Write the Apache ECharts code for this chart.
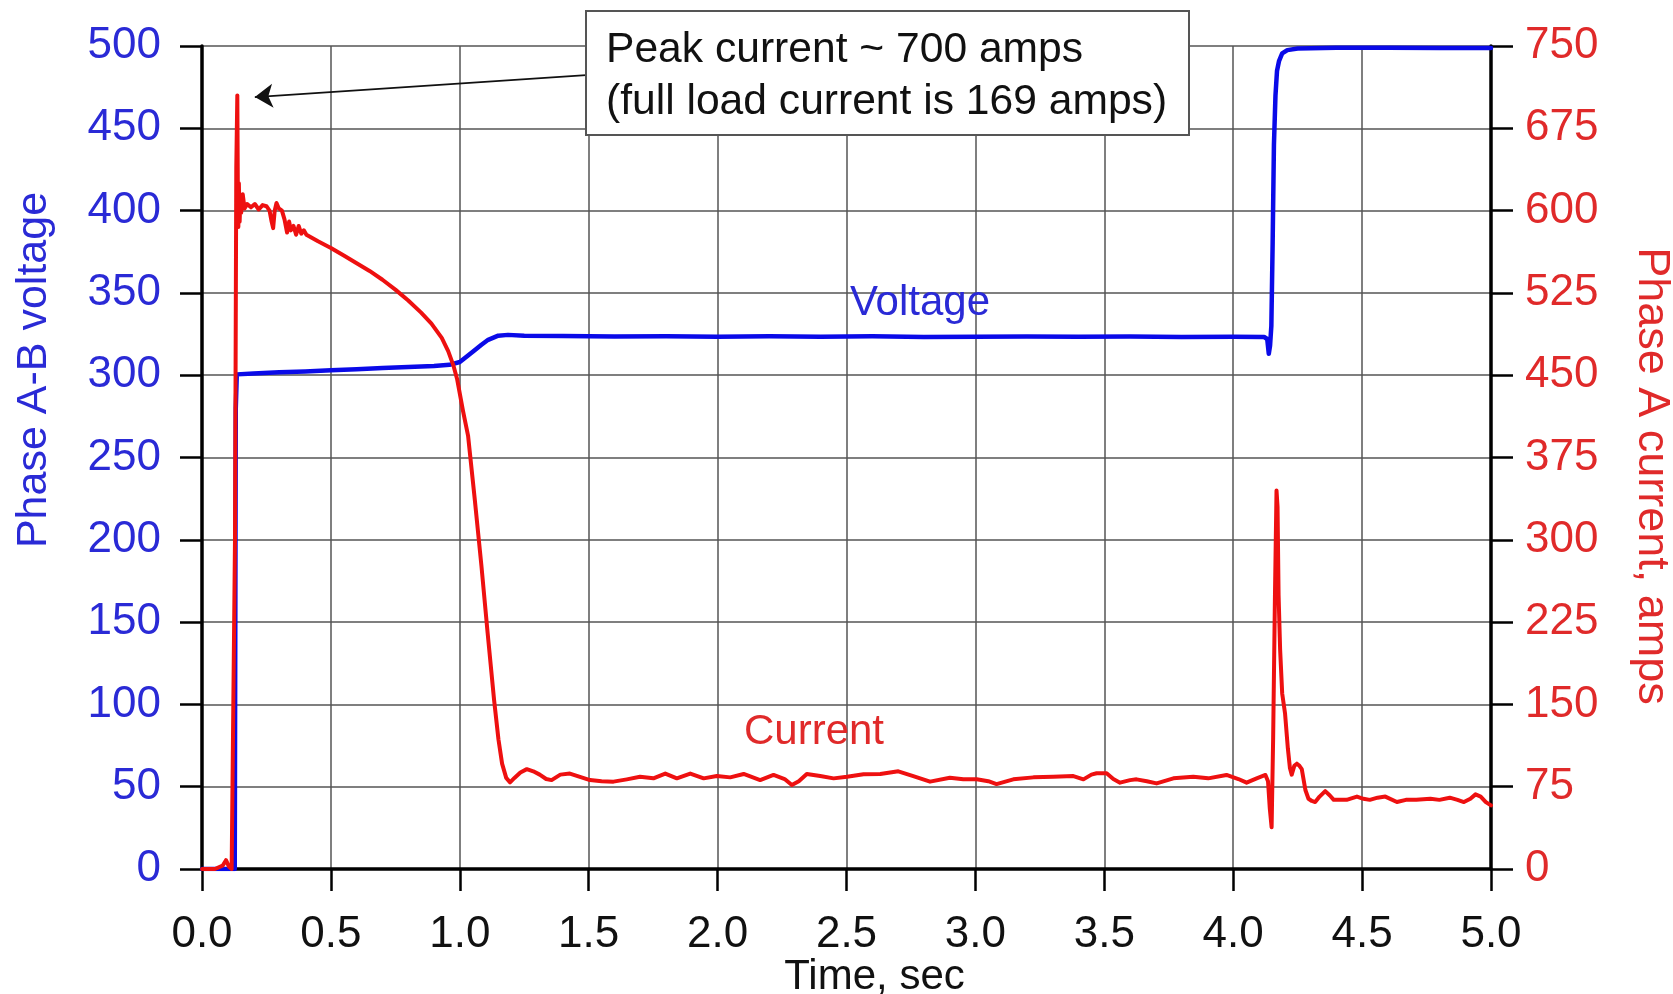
<!DOCTYPE html>
<html><head><meta charset="utf-8">
<script src="https://cdn.jsdelivr.net/npm/echarts@6/dist/echarts.min.js"></script>
<style>html,body{margin:0;padding:0;background:#fff}#c{width:1673px;height:994px}</style>
</head><body><div id="c"></div>
<script>
// ---- data ----
const voltageTime = [0,0.127,0.131,0.135,0.2,0.3,0.4,0.5,0.6,0.7,0.8,0.9,0.96,1.0,1.032,1.06,1.084,1.11,1.149,1.187,1.25,1.4,1.6,1.8,2.0,2.2,2.4,2.6,2.8,3.0,3.2,3.4,3.6,3.8,4.0,4.12,4.132,4.138,4.143,4.148,4.153,4.158,4.164,4.17,4.178,4.19,4.21,4.25,4.4,4.6,4.8,5.0];
const voltageVolts = [0,0,280,300.5,301,301.8,302.3,303,303.6,304.3,305,305.6,306.3,308,312,315.5,318.5,321.5,324,324.5,324,323.8,323.5,323.6,323.3,323.6,323.4,323.6,323.2,323.4,323.5,323.3,323.5,323.2,323.4,323.2,322,313,318,330,380,440,470,485,491,495.5,497.5,498.5,499,499,498.8,498.8];

const currentTime = [0,0.05,0.08,0.093,0.105,0.115,0.122,0.128,0.133,0.137,0.139,0.141,0.143,0.146,0.149,0.152,0.158,0.165,0.175,0.19,0.205,0.22,0.235,0.25,0.262,0.27,0.276,0.282,0.289,0.298,0.31,0.32,0.33,0.338,0.345,0.355,0.365,0.375,0.385,0.395,0.405,0.45,0.5,0.55,0.6,0.65,0.7,0.75,0.8,0.85,0.89,0.93,0.955,0.975,0.99,1.012,1.032,1.058,1.084,1.108,1.133,1.15,1.164,1.18,1.195,1.212,1.235,1.26,1.285,1.31,1.335,1.356,1.39,1.427,1.466,1.505,1.55,1.596,1.648,1.699,1.751,1.797,1.842,1.894,1.946,1.997,2.049,2.101,2.165,2.217,2.26,2.288,2.315,2.346,2.398,2.45,2.502,2.566,2.631,2.701,2.759,2.824,2.901,2.953,3.005,3.05,3.082,3.147,3.225,3.302,3.38,3.419,3.45,3.47,3.509,3.535,3.561,3.6,3.625,3.665,3.703,3.768,3.845,3.903,3.974,4.02,4.052,4.091,4.125,4.135,4.142,4.149,4.155,4.162,4.168,4.172,4.176,4.182,4.19,4.201,4.212,4.22,4.227,4.237,4.247,4.257,4.266,4.28,4.292,4.305,4.318,4.335,4.357,4.375,4.39,4.42,4.44,4.48,4.505,4.53,4.56,4.59,4.635,4.67,4.71,4.765,4.8,4.84,4.87,4.895,4.92,4.94,4.96,4.98,5.0];
const currentAmps = [0,0,3,8,2,0,0,300,640,705,620,585,625,590,612,598,615,602,606,603,606,601,605,604,600,590,584,600,607,602,600,592,580,590,582,586,578,586,579,582,578,572,566,559,552,545,537,528,518,507,497,484,472,459,446,418,395,337,276,215,154,118,96,83,79,83,88,91,89,86,82,81,86,87,84,81,80,79.6,81.7,84,82.6,87,82.6,87,82.6,84.7,83.5,86.6,81.1,85.7,82,76.5,80,86.6,84.7,82.6,84.1,86.3,86.6,89,84.7,79.6,83.2,81.7,81.7,80,77.4,81.7,83.5,84.1,84.7,81.7,86,87.2,87.2,82,78.7,81,81.7,80,78,82.6,84.1,82.6,85.7,82,78.7,82.6,85.7,80,55,38,120,250,345,330,250,200,160,142,110,92,86,94,96,94,91,72,64,62,61,66,71,67,63,63,63,66,64,63,65,66,61,63,63,64,63,65,63,61,64,68,66,61,58];

const timeTicks = [0,0.5,1.0,1.5,2.0,2.5,3.0,3.5,4.0,4.5,5.0];
const voltageTicks = [0,50,100,150,200,250,300,350,400,450,500];
const currentTicks = [0,75,150,225,300,375,450,525,600,675,750];

const seriesNames = ['Voltage','Current'];
const annotationLines = ['Peak current ~ 700 amps','(full load current is 169 amps)'];
// annotation anchor points in data units (time, amps) / (time, volts)
const arrowFrom = [1.49, 723.5];
const arrowTo = [0.205, 703.5];
const voltageLabelAt = [2.785, 343.5];
const currentLabelAt = [2.374, 124.7];

// ---- chart ----
const FONT = '"Liberation Sans", Arial, Helvetica, sans-serif';
const BLUE_TXT = '#2a2ad6', RED_TXT = '#e02a2a';
const BLUE = '#0a0ae8', RED = '#ee1010';

const chart = echarts.init(document.getElementById('c'), null, {renderer: 'canvas'});
const vData = voltageTime.map((t, i) => [t, voltageVolts[i]]);
const cData = currentTime.map((t, i) => [t, currentAmps[i]]);

const axisCommon = {
  nameMoveOverlap: false,
  axisLine: {show: true, onZero: false, lineStyle: {color: '#000', width: 3.5}},
  axisTick: {show: true, inside: false, length: 22, lineStyle: {color: '#000', width: 2.5}},
};

chart.setOption({
  animation: false,
  backgroundColor: '#fff',
  title: {
    text: annotationLines.join('\n'),
    left: 586, top: 11,
    padding: [13, 22, 7, 20],
    backgroundColor: '#fff',
    borderColor: '#555', borderWidth: 2,
    textStyle: {fontFamily: FONT, fontSize: 42.6, fontWeight: 'normal', color: '#111', lineHeight: 52}
  },
  grid: {left: 202, right: 182, top: 46, bottom: 125, containLabel: false, outerBoundsMode: 'none'},
  xAxis: Object.assign({}, axisCommon, {
    type: 'value', min: timeTicks[0], max: timeTicks[timeTicks.length - 1], interval: 0.5,
    name: 'Time, sec', nameLocation: 'middle', nameGap: 87,
    nameTextStyle: {fontFamily: FONT, fontSize: 42, color: '#111', padding: [0, 0, 0, 56]},
    axisLabel: {fontFamily: FONT, fontSize: 44, color: '#111', margin: 44, formatter: v => v.toFixed(1)},
    splitLine: {show: true, lineStyle: {color: '#555', width: 1.5}}
  }),
  yAxis: [
    Object.assign({}, axisCommon, {
      type: 'value', position: 'left', min: voltageTicks[0], max: voltageTicks[voltageTicks.length - 1], interval: 50,
      name: 'Phase A-B voltage', nameLocation: 'middle', nameGap: 146,
      nameTextStyle: {fontFamily: FONT, fontSize: 43, color: BLUE_TXT, padding: [0, 0, 0, 175]},
      axisLabel: {fontFamily: FONT, fontSize: 44, color: BLUE_TXT, margin: 41},
      splitLine: {show: true, lineStyle: {color: '#555', width: 1.5}}
    }),
    Object.assign({}, axisCommon, {
      type: 'value', position: 'right', min: currentTicks[0], max: currentTicks[currentTicks.length - 1], interval: 75,
      name: 'Phase A current, amps', nameLocation: 'middle', nameGap: 138, nameRotate: -90,
      nameTextStyle: {fontFamily: FONT, fontSize: 45, color: RED_TXT, padding: [0, 0, 0, 37]},
      axisLabel: {fontFamily: FONT, fontSize: 44, color: RED_TXT, margin: 34},
      splitLine: {show: false}
    })
  ],
  series: [
    {
      name: seriesNames[0], type: 'line', yAxisIndex: 0, data: vData,
      showSymbol: false, symbol: 'none', smooth: false, sampling: null,
      lineStyle: {color: BLUE, width: 4.5, cap: 'round', join: 'round'},
      z: 3,
      markPoint: {
        symbol: 'circle', symbolSize: 1, itemStyle: {color: 'rgba(0,0,0,0)'},
        label: {show: true, position: 'inside', formatter: seriesNames[0], fontFamily: FONT, fontSize: 42, color: BLUE_TXT},
        data: [{coord: voltageLabelAt}]
      }
    },
    {
      name: seriesNames[1], type: 'line', yAxisIndex: 1, data: cData,
      showSymbol: false, symbol: 'none', smooth: false, sampling: null,
      lineStyle: {color: RED, width: 4, cap: 'round', join: 'round'},
      z: 4,
      markPoint: {
        symbol: 'circle', symbolSize: 1, itemStyle: {color: 'rgba(0,0,0,0)'},
        label: {show: true, position: 'inside', formatter: seriesNames[1], fontFamily: FONT, fontSize: 42, color: RED_TXT},
        data: [{coord: currentLabelAt}]
      },
      markLine: {
        silent: true, symbol: ['none', 'arrow'], symbolSize: 18,
        itemStyle: {color: '#111'},
        lineStyle: {color: '#111', width: 1.8, type: 'solid'},
        label: {show: false},
        data: [[{coord: arrowFrom}, {coord: arrowTo}]]
      }
    }
  ]
});
</script></body></html>
